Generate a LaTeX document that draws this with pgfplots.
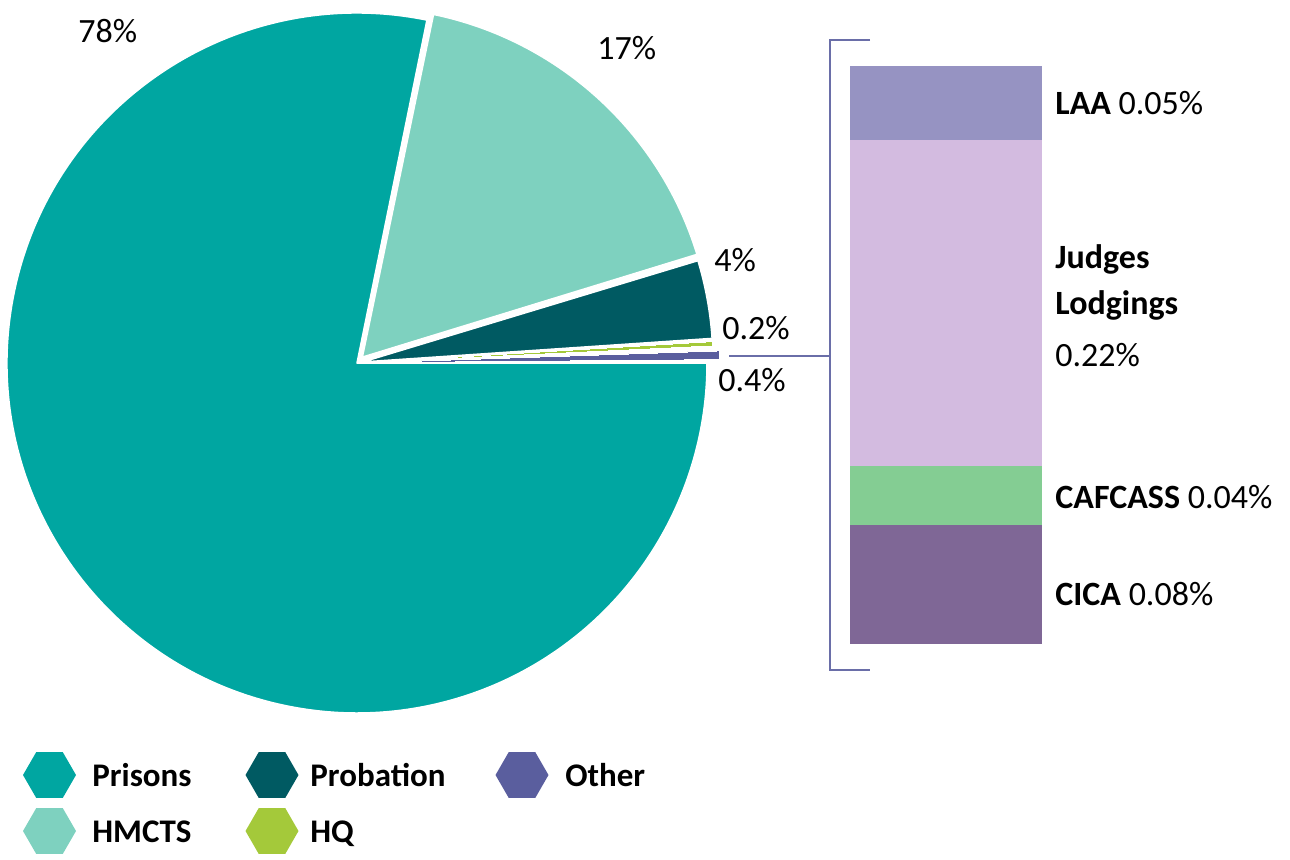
\documentclass[border=0pt]{standalone}
\usepackage{fontspec}
\setmainfont{Carlito}
\usepackage{pgfplots}
\usepackage{pgfplotstable}
\pgfplotsset{compat=1.18}
\usetikzlibrary{calc}

\definecolor{cPrisons}{HTML}{00A6A1}
\definecolor{cHMCTS}{HTML}{7ED1BF}
\definecolor{cProbation}{HTML}{005A62}
\definecolor{cHQ}{HTML}{A4C93A}
\definecolor{cOther}{HTML}{5A5E9E}
\definecolor{cLAA}{HTML}{9693C2}
\definecolor{cJudges}{HTML}{D3BBE0}
\definecolor{cCAFCASS}{HTML}{84CD93}
\definecolor{cCICA}{HTML}{7F6796}
\definecolor{cBracket}{HTML}{6A6EA8}

\pgfdeclareplotmark{hexagon}{%
  \pgfpathmoveto{\pgfpointpolar{0}{\pgfplotmarksize}}%
  \pgfpathlineto{\pgfpointpolar{60}{\pgfplotmarksize}}%
  \pgfpathlineto{\pgfpointpolar{120}{\pgfplotmarksize}}%
  \pgfpathlineto{\pgfpointpolar{180}{\pgfplotmarksize}}%
  \pgfpathlineto{\pgfpointpolar{240}{\pgfplotmarksize}}%
  \pgfpathlineto{\pgfpointpolar{300}{\pgfplotmarksize}}%
  \pgfpathclose\pgfusepathqfill}

% pie slices, counter-clockwise from 0 degrees (east)
% gap = white angle (degrees) before the slice
\pgfplotstableread{
name value gap explode stroke color
Other 0.4 0.5 13 0 cOther
HQ 0.2 0.8 6 0 cHQ
Probation 3.6 0.4 6 0.75 cProbation
HMCTS 17.0 0.25 8 0.75 cHMCTS
Prisons 78.2 0.2 0 0.75 cPrisons
}\piedata

% breakdown of "Other" (bottom to top)
\pgfplotstableread{
name value color
CICA 0.08 cCICA
CAFCASS 0.04 cCAFCASS
Judges 0.22 cJudges
LAA 0.05 cLAA
}\otherdata

\newcommand\lab{\fontsize{17}{20}\selectfont}
\newcommand\leg{\fontsize{16.5}{20}\selectfont\bfseries}

\begin{document}
\begin{tikzpicture}%
\def\acc{0}%
\pgfplotsforeachungrouped \i in {0,...,4}{%
  \pgfplotstablegetelem{\i}{gap}\of\piedata
  \pgfmathsetmacro\acc{\acc+\pgfplotsretval}%
  \pgfplotstablegetelem{\i}{value}\of\piedata
  \pgfmathsetmacro\aend{\acc+3.6*\pgfplotsretval}%
  \pgfmathsetmacro\amid{(\acc+\aend)/2}%
  \expandafter\xdef\csname pieA\i\endcsname{\acc}%
  \expandafter\xdef\csname pieB\i\endcsname{\aend}%
  \expandafter\xdef\csname pieM\i\endcsname{\amid}%
  \pgfplotstablegetelem{\i}{explode}\of\piedata
  \pgfmathsetmacro\ex{0.5*\pgfplotsretval}%
  \expandafter\xdef\csname pieE\i\endcsname{\ex}%
  \pgfplotstablegetelem{\i}{stroke}\of\piedata
  \expandafter\xdef\csname pieS\i\endcsname{\pgfplotsretval}%
  \pgfplotstablegetelem{\i}{color}\of\piedata
  \colorlet{pie\i}{\pgfplotsretval}%
  \let\acc\aend
}%
\pgfplotsforeachungrouped \i in {0,...,3}{%
  \pgfplotstablegetelem{\i}{value}\of\otherdata
  \expandafter\xdef\csname barV\i\endcsname{\pgfplotsretval}%
  \pgfplotstablegetelem{\i}{color}\of\otherdata
  \colorlet{bar\i}{\pgfplotsretval}%
}%
\begin{axis}[
  x=0.5pt, y=0.5pt,
  xmin=0, xmax=1290, ymin=0, ymax=859,
  y dir=reverse,
  hide axis, clip=false,
]
\path (axis cs:0,0) rectangle (axis cs:1290,859);
% pie
\pgfplotsinvokeforeach{0,...,4}{%
  \fill[overlay, fill=pie#1, draw=white, line width=\csname pieS#1\endcsname pt, line join=round]
    ($(axis cs:357,363)+(\csname pieM#1\endcsname:\csname pieE#1\endcsname pt)$)
    -- ++(\csname pieA#1\endcsname:175pt)
    arc[start angle=\csname pieA#1\endcsname, end angle=\csname pieB#1\endcsname, radius=175pt]
    -- cycle;
}
% pie labels
\node[anchor=base west, inner sep=0pt, font=\lab] at (axis cs:78,42) {78\%};
\node[anchor=base west, inner sep=0pt, font=\lab] at (axis cs:597,59) {17\%};
\node[anchor=base west, inner sep=0pt, font=\lab] at (axis cs:714,271) {4\%};
\node[anchor=base west, inner sep=0pt, font=\lab] at (axis cs:722,339) {0.2\%};
\node[anchor=base west, inner sep=0pt, font=\lab] at (axis cs:718,391) {0.4\%};
% bracket
\draw[cBracket, line width=1.2pt] (axis cs:870,40) -- (axis cs:830,40) -- (axis cs:830,670) -- (axis cs:870,670);
\draw[cBracket, line width=1.2pt] (axis cs:729,356) -- (axis cs:830,356);
\coordinate (barorigin) at (axis cs:850,644);
% bar labels
\node[anchor=base west, inner sep=0pt, font=\lab] at (axis cs:1055,114) {\textbf{LAA} 0.05\%};
\node[anchor=base west, inner sep=0pt, font=\lab] at (axis cs:1055,268) {\textbf{Judges}};
\node[anchor=base west, inner sep=0pt, font=\lab] at (axis cs:1055,314) {\textbf{Lodgings}};
\node[anchor=base west, inner sep=0pt, font=\lab] at (axis cs:1055,366) {0.22\%};
\node[anchor=base west, inner sep=0pt, font=\lab] at (axis cs:1055,508) {\textbf{CAFCASS} 0.04\%};
\node[anchor=base west, inner sep=0pt, font=\lab] at (axis cs:1055,605) {\textbf{CICA} 0.08\%};
% legend
\addplot[only marks, mark=hexagon, mark size=13.25pt, color=cPrisons] coordinates {(49.5,775)};
\addplot[only marks, mark=hexagon, mark size=13.25pt, color=cHMCTS] coordinates {(49.5,831)};
\addplot[only marks, mark=hexagon, mark size=13.25pt, color=cProbation] coordinates {(272,775)};
\addplot[only marks, mark=hexagon, mark size=13.25pt, color=cHQ] coordinates {(272,831)};
\addplot[only marks, mark=hexagon, mark size=13.25pt, color=cOther] coordinates {(522,775)};
\node[anchor=base west, inner sep=0pt, font=\leg] at (axis cs:92,786) {Prisons};
\node[anchor=base west, inner sep=0pt, font=\leg] at (axis cs:92,842) {HMCTS};
\node[anchor=base west, inner sep=0pt, font=\leg] at (axis cs:310,786) {Probation};
\node[anchor=base west, inner sep=0pt, font=\leg] at (axis cs:310,842) {HQ};
\node[anchor=base west, inner sep=0pt, font=\leg] at (axis cs:565,786) {Other};
\end{axis}
\begin{axis}[
  at={(barorigin)}, anchor=origin,
  x=96pt, y=741.03pt,
  xmin=0, xmax=1, ymin=0, ymax=0.39,
  hide axis, clip=false,
  ybar stacked, bar width=96pt,
]
\pgfplotsinvokeforeach{0,...,3}{%
  \addplot[fill=bar#1, draw=none] coordinates {(0.5,\csname barV#1\endcsname)};
}
\end{axis}
\end{tikzpicture}
\end{document}
